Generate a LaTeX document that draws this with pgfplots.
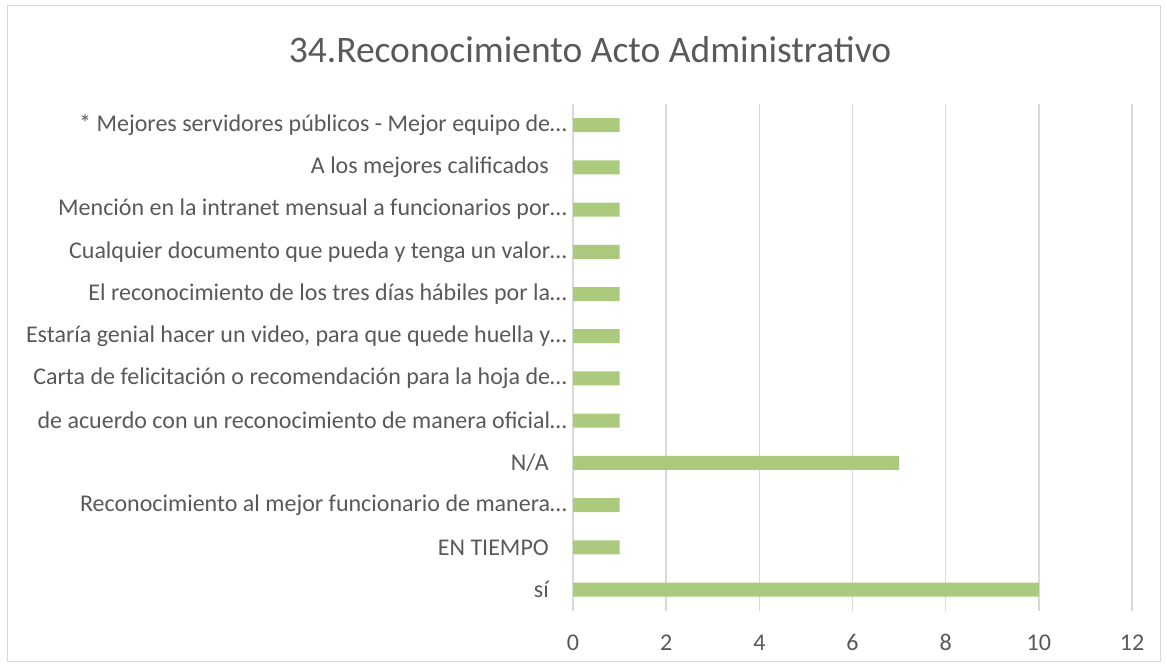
\documentclass[border=0pt]{standalone}
\usepackage{pgfplots}
\pgfplotsset{compat=1.18}
\usepackage{fontspec}
\setmainfont{Carlito}
\definecolor{txt}{HTML}{595959}
\definecolor{gridc}{HTML}{D9D9D9}
\definecolor{barc}{HTML}{ABCA7E}
\begin{document}
\begin{tikzpicture}[x=1bp,y=1bp]
\path[use as bounding box] (0,0) rectangle (1167,668);
\draw[draw=gridc, line width=1bp] (7,6) rectangle (1160,662);
\node[text=txt, font=\fontsize{37.5bp}{44bp}\selectfont] at (590,618) {34.Reconocimiento Acto Administrativo};
\begin{axis}[
  at={(573bp,57.3bp)}, anchor=south west,
  scale only axis, width=559bp, height=506.7bp,
  xmin=0, xmax=12, ymin=-0.5, ymax=11.5,
  xbar, bar width=14bp,
  xtick={0,2,...,12},
  ytick={0,...,11},
  yticklabels={s\'{\i}\kern18bp,EN TIEMPO\kern18bp,Reconocimiento al mejor funcionario de manera…,N/A\kern18bp,de acuerdo con un reconocimiento de manera oficial…,Carta de felicitación o recomendación para la hoja de…,Estaría genial hacer un video{,} para que quede huella y…,El reconocimiento de los tres días hábiles por la…,Cualquier documento que pueda y tenga un valor…,Mención en la intranet mensual a funcionarios por…,A los mejores calificados\kern18bp,* Mejores servidores públicos - Mejor equipo de…},
  xmajorgrids, grid style={gridc, line width=1.4bp},
  axis line style={draw=none}, tick style={draw=none},
  major tick length=0pt,
  ticklabel style={text=txt, font=\fontsize{24bp}{28bp}\selectfont},
  yticklabel style={anchor=east, inner sep=0pt, xshift=-6bp},
  xticklabel style={anchor=center, inner sep=0pt, yshift=-32bp},
  /pgf/number format/assume math mode=true,
  clip=false,
]
\addplot[fill=barc, draw=none] coordinates {
(10,0) (1,1) (1,2) (7,3) (1,4) (1,5) (1,6) (1,7) (1,8) (1,9) (1,10) (1,11)
};
\end{axis}
\end{tikzpicture}
\end{document}
